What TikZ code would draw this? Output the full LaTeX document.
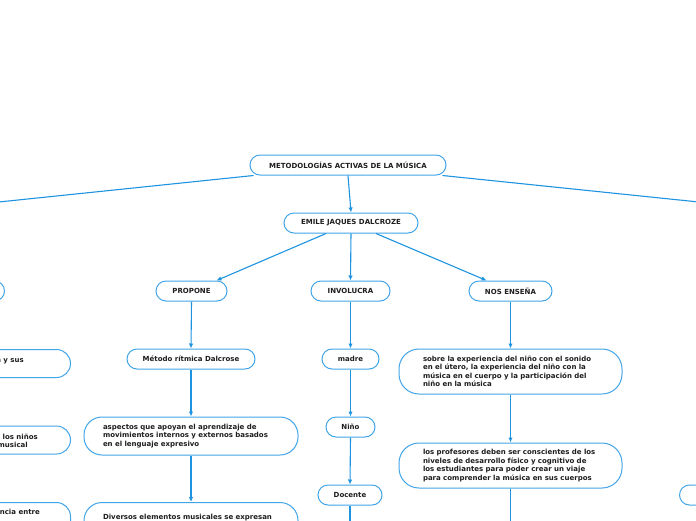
\documentclass[tikz,border=0pt]{standalone}
\usepackage{fontspec}
\setmainfont{DejaVu Sans}
\usetikzlibrary{arrows.meta,calc}
\definecolor{lineblue}{RGB}{30,148,224}
\definecolor{boxblue}{RGB}{66,165,232}
\definecolor{txt}{RGB}{30,30,30}
\begin{document}
\begin{tikzpicture}[x=1pt,y=-1pt,
  lbl/.style={font=\fontsize{7}{8.5}\selectfont\bfseries,text=txt},
  box/.style={lbl,draw=boxblue,line width=1pt,fill=white,rounded corners=10pt,
    minimum height=20pt,inner xsep=4pt,inner ysep=3pt},
  bigbox/.style={box,rounded corners=18pt,align=left,inner xsep=19pt,text width=176pt,minimum height=38pt},
  widebox/.style={box,rounded corners=20pt,align=left,inner xsep=24pt,text width=175pt,minimum height=45pt},
  conn/.style={draw=lineblue,line width=1.1pt},
  arr/.style={conn,-{Latex[length=5pt,width=4.5pt]}}]
\useasboundingbox (0,0) rectangle (696,520);
\clip (0,0) rectangle (696,520);
\fill[white] (0,0) rectangle (696,520);

% nodes
\node[box,minimum width=196pt] (root) at (348,165) {METODOLOGÍAS ACTIVAS DE LA MÚSICA};
\node[box,minimum width=134pt] (emile) at (351,223) {EMILE JAQUES DALCROZE};
\node[box,minimum width=71pt] (propone) at (191.5,291) {PROPONE};
\node[box,minimum width=79pt] (involucra) at (350.5,291) {INVOLUCRA};
\node[box,minimum width=83pt] (ensena) at (510.5,291) {NOS ENSEÑA};
\node[box,minimum width=128pt] (metodo) at (191,359) {Método rítmica Dalcrose};
\node[box,minimum width=57pt] (madre) at (350.5,359) {madre};
\node[box,minimum width=49pt] (nino) at (350.5,427) {Niño};
\node[box,minimum width=64pt] (docente) at (350,495) {Docente};
\node[bigbox] (aspectos) at (191,436) {aspectos que apoyan el aprendizaje de\\movimientos internos y externos basados\\en el lenguaje expresivo};
\node[bigbox,anchor=north,minimum height=46pt] (diversos) at (191,502) {Diversos elementos musicales se expresan\\a través del cuerpo. Entre estos elementos\\están el ritmo};
\node[widebox] (sobre) at (510.5,371.5) {sobre la experiencia del niño con el sonido\\en el útero, la experiencia del niño con la\\música en el cuerpo y la participación del\\niño en la música};
\node[widebox] (profesores) at (510.5,465.5) {los profesores deben ser conscientes de los\\niveles de desarrollo físico y cognitivo de\\los estudiantes para poder crear un viaje\\para comprender la música en sus cuerpos};

% partially visible nodes at the edges
\node[box,anchor=east,minimum width=80pt] (leftA) at (5,291) {};
\node[box,anchor=east,minimum width=200pt,minimum height=28pt,rounded corners=14pt] (leftB) at (71,363.5) {};
\node[box,anchor=east,minimum width=200pt,minimum height=28pt,rounded corners=14pt] (leftC) at (71,440) {};
\node[box,anchor=north east,minimum width=200pt,minimum height=40pt,rounded corners=14pt] (leftD) at (71,502) {};
\node[lbl,anchor=base east,inner sep=0pt] (tB) at (24,362.5) {ía y sus};
\node[lbl,anchor=base east,inner sep=0pt] (tC1) at (38,439) {para los niños};
\node[lbl,anchor=base east,inner sep=0pt] (tC2) at (28,447.5) {musical};
\node[lbl,anchor=base east,inner sep=0pt] (tD) at (40,514.5) {diferencia entre};
\node[box,anchor=west,minimum width=90pt,text width=60pt,align=left,inner xsep=16pt] (rbox) at (679,495) {I};

% free ends
\coordinate (L) at (-83,210.5);
\coordinate (R) at (781,210.5);
\coordinate (dEnd) at (350,540);
\coordinate (pEnd) at (510.5,540);

% connectors
\draw[conn] ($(root.south west)+(4,0)$) -- (L);
\draw[conn] ($(root.south east)+(-4,0)$) -- (R);
\draw[arr] (root.south) -- (emile.north);
\draw[arr] ($(emile.south)+(-25,0)$) -- ($(propone.north)+(25,0)$);
\draw[arr] (emile.south) -- (involucra.north);
\draw[arr] ($(emile.south)+(25,0)$) -- ($(ensena.north)+(-24,0)$);
\draw[arr] (propone.south) -- (metodo.north);
\draw[arr] (metodo.south) -- (aspectos.north);
\draw[arr] (aspectos.south) -- (diversos.north);
\draw[arr] (involucra.south) -- (madre.north);
\draw[arr] (madre.south) -- (nino.north);
\draw[arr] (nino.south) -- (docente.north);
\draw[conn] (docente.south) -- (dEnd);
\draw[arr] (ensena.south) -- (sobre.north);
\draw[arr] (sobre.south) -- (profesores.north);
\draw[conn] (profesores.south) -- (pEnd);
\end{tikzpicture}
\end{document}
